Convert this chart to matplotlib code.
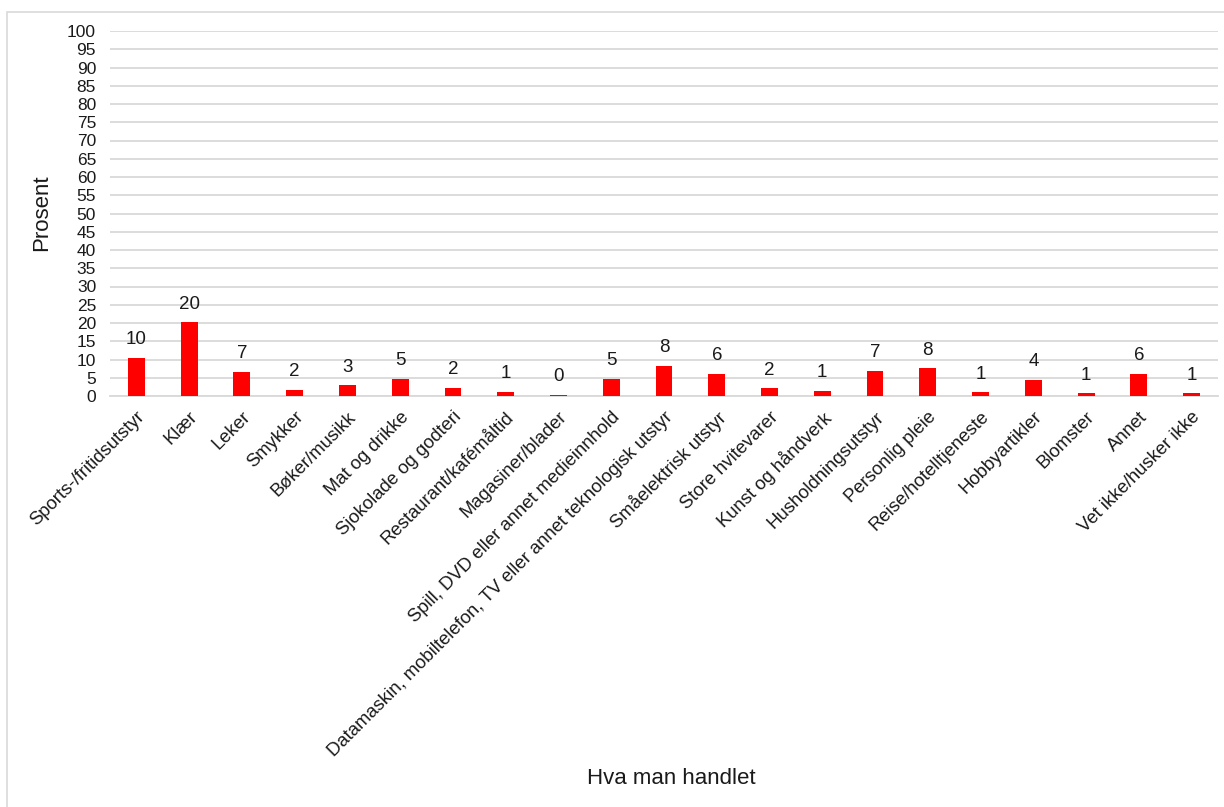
import matplotlib
matplotlib.use("Agg")
import matplotlib.pyplot as plt
import matplotlib.patches as patches
import numpy as np

plt.rcParams['font.family'] = ['Liberation Sans', 'DejaVu Sans']

categories = [
    "Sports-/fritidsutstyr",
    "Klær",
    "Leker",
    "Smykker",
    "Bøker/musikk",
    "Mat og drikke",
    "Sjokolade og godteri",
    "Restaurant/kafémåltid",
    "Magasiner/blader",
    "Spill, DVD eller annet medieinnhold",
    "Datamaskin, mobiltelefon, TV eller annet teknologisk utstyr",
    "Småelektrisk utstyr",
    "Store hvitevarer",
    "Kunst og håndverk",
    "Husholdningsutstyr",
    "Personlig pleie",
    "Reise/hotelltjeneste",
    "Hobbyartikler",
    "Blomster",
    "Annet",
    "Vet ikke/husker ikke",
]

values = [10.4, 20.2, 6.6, 1.6, 2.9, 4.6, 2.3, 1.2, 0.3, 4.7, 8.2,
          6.0, 2.1, 1.4, 6.8, 7.6, 1.0, 4.4, 0.7, 6.0, 0.7]

yticks = list(range(0, 101, 5))

W, H = 1224, 807
fig = plt.figure(figsize=(W / 100, H / 100), dpi=100)
ax = fig.add_axes([110 / W, 1 - 396 / H, (1218 - 110) / W, (396 - 31) / H])

# light border around the chart area
fig.patches.append(patches.Rectangle((7 / W, -0.01), 1.2, 1 - 12 / H + 0.01,
                                     transform=fig.transFigure, fill=False,
                                     ec='#d9d9d9', lw=1.2))

x = np.arange(len(categories))
bars = ax.bar(x, values, width=0.32, color='#ff0000', zorder=3)

for xi, v in zip(x, values):
    ax.annotate('{:.0f}'.format(v), (xi, v), xytext=(0, 7),
                textcoords='offset points', ha='center', va='bottom',
                fontsize=13.5, color='#1a1a1a')

ax.set_xlim(-0.5, len(categories) - 0.5)
ax.set_ylim(0, 100)
ax.set_yticks(yticks)
ax.set_yticklabels([str(t) for t in yticks], fontsize=12.5, color='#1a1a1a')
ax.yaxis.grid(True, color='#d9d9d9', lw=1.3, zorder=0)
ax.set_axisbelow(True)

ax.set_xticks(x)
ax.set_xticklabels(categories, rotation=45, ha='right', rotation_mode='anchor',
                   fontsize=13.3, color='#1a1a1a')
ax.tick_params(axis='both', length=0)
ax.tick_params(axis='x', pad=9)
ax.tick_params(axis='y', pad=10)

for s in ['top', 'right', 'left']:
    ax.spines[s].set_visible(False)
ax.spines['bottom'].set_color('#d9d9d9')
ax.spines['bottom'].set_linewidth(1.3)

fig.text(42 / W, 1 - 213 / H, 'Prosent', fontsize=16, rotation=90,
         ha='center', va='center', color='#1a1a1a')
fig.text(671 / W, 1 - 778 / H, 'Hva man handlet', fontsize=16,
         ha='center', va='center', color='#1a1a1a')

plt.savefig('out.png', dpi=100)
